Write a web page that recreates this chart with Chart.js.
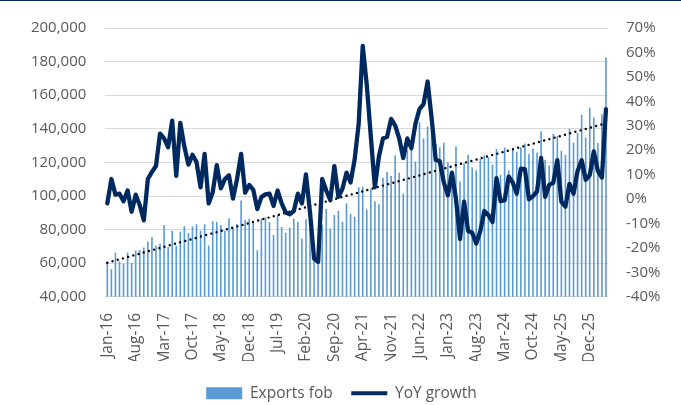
<!DOCTYPE html>
<html>
<head>
<meta charset="utf-8">
<script src="https://cdn.jsdelivr.net/npm/chart.js@4"></script>
<style>
  html, body { margin: 0; padding: 0; background: #ffffff; }
  #wrap { position: relative; width: 681px; height: 405px; }
  #topline { position: absolute; left: 0; top: 0; width: 681px; height: 1px; background: #0b2a5c; }
</style>
</head>
<body>
<div id="wrap">
  <canvas id="c"></canvas>
  <div id="topline"></div>
</div>
<script>
// ---- categories (monthly, Jan-16 .. Apr-26) ----
const months = [
  'Jan-16','Feb-16','Mar-16','Apr-16','May-16','Jun-16','Jul-16','Aug-16','Sep-16','Oct-16','Nov-16','Dec-16',
  'Jan-17','Feb-17','Mar-17','Apr-17','May-17','Jun-17','Jul-17','Aug-17','Sep-17','Oct-17','Nov-17','Dec-17',
  'Jan-18','Feb-18','Mar-18','Apr-18','May-18','Jun-18','Jul-18','Aug-18','Sep-18','Oct-18','Nov-18','Dec-18',
  'Jan-19','Feb-19','Mar-19','Apr-19','May-19','Jun-19','Jul-19','Aug-19','Sep-19','Oct-19','Nov-19','Dec-19',
  'Jan-20','Feb-20','Mar-20','Apr-20','May-20','Jun-20','Jul-20','Aug-20','Sep-20','Oct-20','Nov-20','Dec-20',
  'Jan-21','Feb-21','Mar-21','Apr-21','May-21','Jun-21','Jul-21','Aug-21','Sep-21','Oct-21','Nov-21','Dec-21',
  'Jan-22','Feb-22','Mar-22','Apr-22','May-22','Jun-22','Jul-22','Aug-22','Sep-22','Oct-22','Nov-22','Dec-22',
  'Jan-23','Feb-23','Mar-23','Apr-23','May-23','Jun-23','Jul-23','Aug-23','Sep-23','Oct-23','Nov-23','Dec-23',
  'Jan-24','Feb-24','Mar-24','Apr-24','May-24','Jun-24','Jul-24','Aug-24','Sep-24','Oct-24','Nov-24','Dec-24',
  'Jan-25','Feb-25','Mar-25','Apr-25','May-25','Jun-25','Jul-25','Aug-25','Sep-25','Oct-25','Nov-25','Dec-25',
  'Jan-26','Feb-26','Mar-26','Apr-26'
];

// ---- series: Exports fob (left axis) ----
const exportsFob = [
  60700, 56400, 66300, 61100, 59700, 66300, 60100, 67500, 67900, 69400, 72900, 75600,
  70500, 71700, 82800, 69600, 79300, 70200, 78700, 82000, 78000, 81800, 83200, 79300,
  83200, 70600, 84900, 84500, 82600, 79300, 86700, 80900, 83200, 97300, 85700, 86400,
  84700, 67700, 86400, 87400, 84400, 76800, 88800, 81600, 78100, 81200, 86400, 84500,
  74700, 86100, 81000, 64000, 62700, 82900, 92200, 80600, 88700, 91100, 84500, 95700,
  89500, 87600, 105200, 105600, 92000, 104200, 96900, 95100, 110800, 114500, 111900, 124100,
  113900, 101500, 127400, 129900, 120600, 143900, 134200, 141300, 137100, 130900, 129000, 131700,
  120000, 112500, 129400, 108600, 119500, 124500, 117000, 115400, 122000, 124200, 123000, 118800,
  128000, 112500, 128900, 115200, 127400, 126400, 129000, 131300, 125100, 128200, 125900, 138600,
  121600, 118100, 137100, 135700, 127000, 124500, 140000, 131700, 137500, 148300, 134800, 152600,
  146800, 131500, 148700, 182500
];

// ---- series: YoY growth, % (right axis) ----
const yoyGrowth = [
  -1.8, 8.2, 1.8, 2.2, -0.9, 3.5, -5.2, 1.8, -2.5, -8.7, 8.2, 11.1,
  13.5, 26.8, 24.8, 21.2, 32.1, 9.5, 31.2, 21.5, 14.1, 18.1, 15.1, 4.8,
  18.5, -1.8, 2.8, 13.9, 4.4, 8.2, 9.7, 0.2, 8.2, 18.5, 2.6, 5.8,
  3.8, -4.1, 0.8, 1.9, 2.2, -2.8, 3.5, -1.8, -5.5, -6.2, -4.9, 2.2,
  -1.8, 10.1, -5.5, -24.4, -25.7, 8.2, 3.5, -0.5, 13.5, 0.9, 4.2, 10.8,
  6.8, 16.1, 30.8, 62.7, 46.7, 25.5, 4.8, 17.5, 24.8, 25.5, 32.8, 30.1,
  24.8, 16.8, 24.8, 20.8, 30.8, 36.8, 38.8, 48.1, 33.0, 16.1, 15.5, 6.8,
  1.5, 10.8, 0.0, -16.4, -1.1, -13.1, -13.8, -18.2, -13.1, -4.9, -6.5, -9.4,
  8.6, -0.9, -0.5, 9.2, 6.8, 2.2, 12.4, 12.2, -0.1, 1.2, 3.1, 16.8,
  0.9, 5.8, 6.6, 15.9, -1.1, -3.1, 6.2, 2.2, 11.5, 15.9, 7.9, 9.8,
  19.5, 11.5, 8.8, 36.8
];

// ---- linear trend of exports (end points) ----
const trendStart = 60300;
const trendEnd = 143300;

// ---- tick settings ----
const leftTicks = { min: 40000, max: 200000, step: 20000 };
const rightTicks = { min: -40, max: 70, step: 10 };
const xLabelEvery = 7;

const barColor = '#5b9bd5';
const lineColor = '#002a5f';
const textColor = '#595959';
const fontFamily = "'Open Sans', 'Noto Sans', sans-serif";

const legendShift = {
  id: 'legendShift',
  afterLayout(chart) {
    const l = chart.legend;
    if (!l) return;
    l.left += 1; l.right += 1;
    l.top += 6; l.bottom += 6;
  }
};

new Chart(document.getElementById('c'), {
  data: {
    labels: months,
    datasets: [
      {
        type: 'bar',
        label: 'Exports fob',
        data: exportsFob,
        backgroundColor: barColor,
        borderWidth: 0,
        barPercentage: 0.4,
        categoryPercentage: 1.0,
        yAxisID: 'y',
        order: 3
      },
      {
        type: 'line',
        label: 'YoY growth',
        data: yoyGrowth,
        borderColor: lineColor,
        backgroundColor: lineColor,
        borderWidth: 4.3,
        pointRadius: 0,
        tension: 0,
        borderJoinStyle: 'round',
        borderCapStyle: 'round',
        yAxisID: 'y1',
        order: 1
      },
      {
        type: 'line',
        label: 'Trend',
        data: [{ x: months[0], y: trendStart }, { x: months[months.length - 1], y: trendEnd }],
        borderColor: '#000000',
        borderWidth: 2.4,
        borderDash: [0, 5.4],
        borderCapStyle: 'round',
        pointRadius: 0,
        yAxisID: 'y',
        order: 2
      }
    ]
  },
  options: {
    responsive: true,
    maintainAspectRatio: false,
    animation: false,
    devicePixelRatio: 1,
    layout: { padding: { top: 21.5, left: 0, right: 0, bottom: 0 } },
    plugins: {
      tooltip: { enabled: false },
      legend: {
        position: 'bottom',
        labels: {
          usePointStyle: true,
          pointStyleWidth: 36,
          boxHeight: 12,
          padding: 18.5,
          color: textColor,
          font: { family: fontFamily, size: 15.5 },
          generateLabels(chart) {
            const ds = chart.data.datasets;
            return [
              { text: ds[0].label, fillStyle: barColor, strokeStyle: barColor, lineWidth: 0,
                pointStyle: 'rect', datasetIndex: 0, hidden: false, fontColor: textColor },
              { text: ds[1].label, fillStyle: lineColor, strokeStyle: lineColor, lineWidth: 4,
                pointStyle: 'line', datasetIndex: 1, hidden: false, fontColor: textColor }
            ];
          }
        }
      }
    },
    scales: {
      x: {
        type: 'category',
        offset: true,
        grid: { display: false, drawTicks: false },
        border: { display: false },
        ticks: {
          autoSkip: false,
          minRotation: 90,
          maxRotation: 90,
          padding: 16,
          color: textColor,
          font: { family: fontFamily, size: 15.5 },
          callback(value, index) {
            return index % xLabelEvery === 0 ? this.getLabelForValue(value) : null;
          }
        },
        afterFit(scale) { scale.height = 64.2; }
      },
      y: {
        position: 'left',
        min: leftTicks.min,
        max: leftTicks.max,
        grid: { color: '#d9d9d9', lineWidth: 1, drawTicks: false },
        border: { display: false },
        ticks: {
          stepSize: leftTicks.step,
          padding: 19,
          color: textColor,
          font: { family: fontFamily, size: 15 },
          callback: v => v.toLocaleString('en-US')
        },
        afterFit(scale) { scale.width = 105.3; }
      },
      y1: {
        position: 'right',
        min: rightTicks.min,
        max: rightTicks.max,
        grid: { display: false, drawTicks: false },
        border: { display: false },
        ticks: {
          stepSize: rightTicks.step,
          padding: 18,
          color: textColor,
          font: { family: fontFamily, size: 15 },
          callback: v => v + '%'
        },
        afterFit(scale) { scale.width = 73; }
      }
    }
  },
  plugins: [legendShift]
});
</script>
</body>
</html>
